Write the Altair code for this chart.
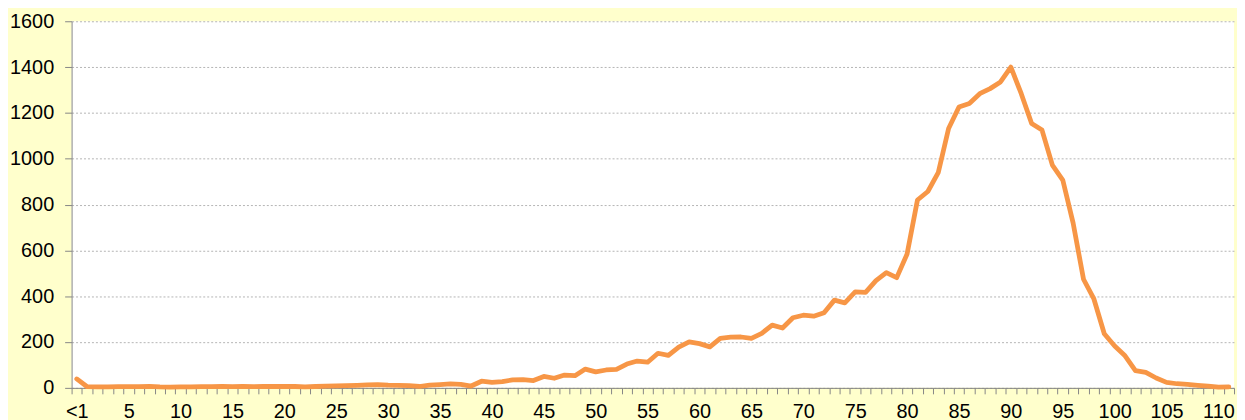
import altair as alt
import pandas as pd

CATEGORIES = ["<1"] + [str(i) for i in range(1, 112)]
VALUES = [39, 5, 4, 4, 5, 5, 5, 7, 4, 3,
          4, 4, 5, 5, 6, 5, 7, 5, 6, 6,
          6, 6, 4, 6, 8, 9, 10, 11, 13, 14,
          12, 11, 10, 6, 12, 14, 17, 15, 8, 29,
          24, 27, 35, 36, 32, 50, 42, 56, 53, 82,
          70, 78, 81, 104, 117, 112, 151, 142, 178, 201,
          193, 179, 216, 221, 222, 216, 238, 274, 261, 306,
          317, 313, 328, 383, 371, 419, 417, 468, 503, 481,
          584, 820, 857, 939, 1132, 1226, 1241, 1284, 1306, 1335,
          1400, 1284, 1154, 1125, 972, 907, 719, 474, 388, 236,
          183, 140, 75, 68, 43, 24, 18, 15, 11, 8,
          3, 4]
TICK_LABELS = ["<1"] + [str(i) for i in range(5, 111, 5)]
Y_TICKS = list(range(0, 1601, 200))

df = pd.DataFrame({"cat": CATEGORIES, "value": VALUES})

label_list = ",".join("'" + t + "'" for t in TICK_LABELS)
label_expr = "indexof([" + label_list + "], datum.value) >= 0 ? datum.value : ''"

FONT = "Liberation Sans"
AXIS_COLOR = "#868686"
FS = 20

chart = (
    alt.Chart(df)
    .mark_line(color="#F79646", strokeWidth=4.8, strokeJoin="round", strokeCap="round")
    .encode(
        x=alt.X(
            "cat:O",
            sort=CATEGORIES,
            scale=alt.Scale(type="band", paddingInner=0, paddingOuter=0),
            axis=alt.Axis(
                title=None,
                labelAngle=0,
                labelExpr=label_expr,
                labelOverlap=False,
                labelBound=False,
                tickBand="extent",
                tickSize=6,
                tickColor=AXIS_COLOR,
                domainColor=AXIS_COLOR,
                labelPadding=8,
                labelFont=FONT,
                labelFontSize=FS,
                labelColor="#000000",
                grid=False,
            ),
        ),
        y=alt.Y(
            "value:Q",
            scale=alt.Scale(domain=[0, 1600], nice=False),
            axis=alt.Axis(
                title=None,
                values=Y_TICKS,
                format="d",
                tickSize=7,
                tickColor=AXIS_COLOR,
                domainColor=AXIS_COLOR,
                labelPadding=11,
                labelFont=FONT,
                labelFontSize=FS,
                labelColor="#000000",
                grid=True,
                gridColor="#B4B4B4",
                gridDash=[2, 2],
                gridWidth=1,
            ),
        ),
    )
    .properties(
        width=1170,
        height=369,
        background="#FFFFCC",
        autosize=alt.AutoSizeParams(type="none"),
        padding={"left": 64, "top": 12, "right": 3, "bottom": 31},
    )
    .configure_view(fill="#FFFFFF", stroke=None, strokeWidth=0)
)

chart.save("out.html", embed_options={"renderer": "svg", "actions": False})
